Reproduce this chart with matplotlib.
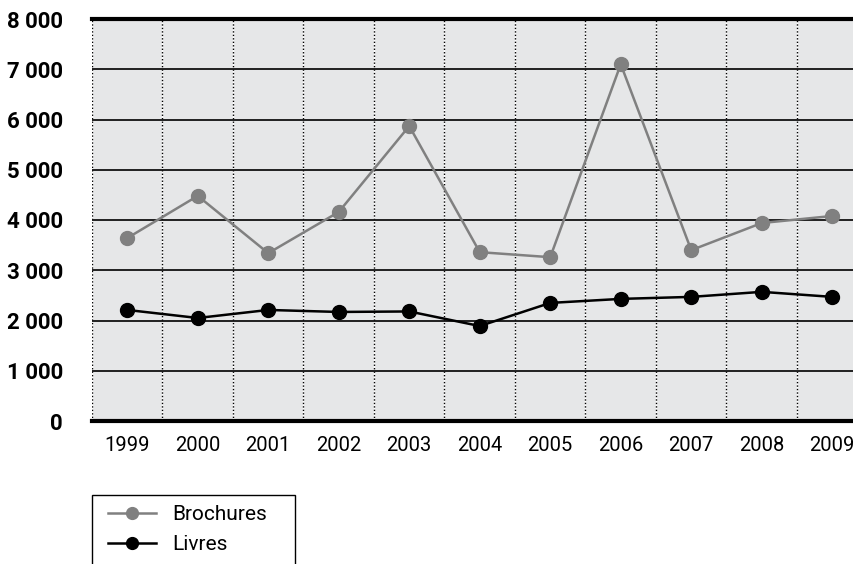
import matplotlib
matplotlib.use("Agg")
import matplotlib.pyplot as plt
from matplotlib.ticker import FixedLocator, FuncFormatter
from matplotlib.patches import Rectangle

years = ["1999", "2000", "2001", "2002", "2003", "2004", "2005", "2006", "2007", "2008", "2009"]
brochures = [3640, 4480, 3340, 4160, 5870, 3360, 3260, 7100, 3400, 3940, 4080]
livres = [2210, 2050, 2210, 2170, 2180, 1890, 2350, 2430, 2470, 2570, 2470]
yticks = [0, 1000, 2000, 3000, 4000, 5000, 6000, 7000, 8000]

plt.rcParams['font.family'] = ['Roboto', 'DejaVu Sans']

W, H = 854, 564
fig = plt.figure(figsize=(W / 100, H / 100), dpi=100)
left, right, top, bottom = 92, 854, 19, 421
ax = fig.add_axes([left / W, 1 - bottom / H, (right - left) / W, (bottom - top) / H])
ax.set_facecolor('#e6e7e8')

step = 70.5
x = list(range(len(years)))
ax.set_xlim(-0.5, -0.5 + (right - left) / step)
ax.set_ylim(0, 8000)

# gridlines
for v in yticks[1:-1]:
    ax.axhline(v, color='#111111', lw=1.3, zorder=1)
for b in range(len(years) + 1):
    xb = b - 0.5
    ax.axvline(xb, color='white', lw=1.0, zorder=0.5)
    ax.axvline(xb, color='black', lw=1.0, ls=(0, (1, 1.5)), zorder=0.6)

ax.plot(x, brochures, color='#808080', lw=1.8, marker='o', ms=10,
        markerfacecolor='#808080', markeredgecolor='#808080', label='Brochures', zorder=3)
ax.plot(x, livres, color='black', lw=1.8, marker='o', ms=10,
        markerfacecolor='black', markeredgecolor='black', label='Livres', zorder=3)

for s in ['left', 'right']:
    ax.spines[s].set_visible(False)
ax.spines['top'].set_linewidth(3)
ax.spines['bottom'].set_linewidth(3)

ax.set_xticks(x)
ax.set_xticklabels(years, fontsize=14.5)
ax.yaxis.set_major_locator(FixedLocator(yticks))
ax.yaxis.set_major_formatter(FuncFormatter(lambda v, p: f"{int(v):,}".replace(",", " ")))
for lab in ax.get_yticklabels():
    lab.set_fontweight('bold')
    lab.set_fontsize(16)
ax.tick_params(axis='both', length=0)
ax.tick_params(axis='x', pad=11)
ax.tick_params(axis='y', pad=21)

# legend frame (extends past the bottom of the figure)
fig.patches.append(Rectangle((left / W, 1 - 575 / H), (295 - left) / W, (575 - 495) / H,
                             transform=fig.transFigure, fill=False, edgecolor='black',
                             lw=1.0))
leg = fig.legend(loc='upper left', bbox_to_anchor=(108 / W, 1 - 505 / H),
                 frameon=False, fontsize=15, borderaxespad=0, borderpad=0,
                 handlelength=2.3, labelspacing=0.55, handletextpad=0.8, markerscale=0.85)

fig.savefig('out.png', dpi=100)
